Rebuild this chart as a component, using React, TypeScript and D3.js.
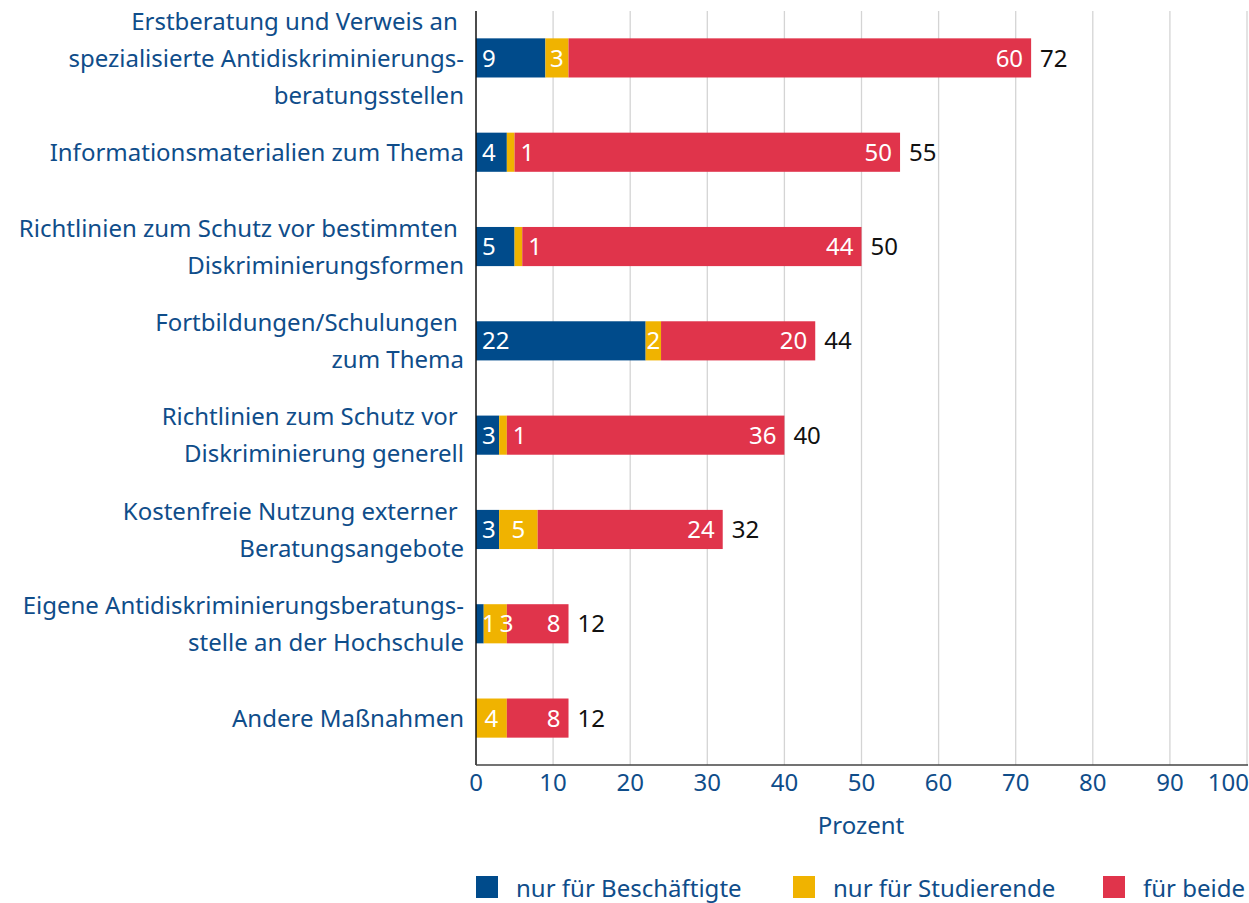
import { useEffect, useRef } from 'react';
import * as d3 from 'd3';

// categories (lines split as in the original labels)
const categories = [
  ['Erstberatung und Verweis an ', 'spezialisierte Antidiskriminierungs-', 'beratungsstellen'],
  ['Informationsmaterialien zum Thema'],
  ['Richtlinien zum Schutz vor bestimmten ', 'Diskriminierungsformen'],
  ['Fortbildungen/Schulungen ', 'zum Thema'],
  ['Richtlinien zum Schutz vor ', 'Diskriminierung generell'],
  ['Kostenfreie Nutzung externer ', 'Beratungsangebote'],
  ['Eigene Antidiskriminierungsberatungs-', 'stelle an der Hochschule'],
  ['Andere Maßnahmen'],
];
const beschaeftigte = [9, 4, 5, 22, 3, 3, 1, 0];
const studierende = [3, 1, 1, 2, 1, 5, 3, 4];
const beide = [60, 50, 44, 20, 36, 24, 8, 8];
const totals = [72, 55, 50, 44, 40, 32, 12, 12];
const ticks = [0, 10, 20, 30, 40, 50, 60, 70, 80, 90, 100];
const seriesNames = ['nur für Beschäftigte', 'nur für Studierende', 'für beide'];
const colors = ['#004b8b', '#f0b300', '#e0344b'];

const FONT = '"Noto Sans", sans-serif';
const FS = 24;
const TEXT_BLUE = '#0f4d8a';

export default function App() {
  const svgRef = useRef<SVGSVGElement>(null);

  useEffect(() => {
    const width = 1249;
    const height = 903;
    const left = 476, right = 1247, top = 11, bottom = 765;

    const svg = d3.select(svgRef.current);
    svg.selectAll('*').remove();
    svg.attr('width', width).attr('height', height);

    const x = d3.scaleLinear().domain([0, 100]).range([left, right]);
    const y = d3.scaleBand<number>()
      .domain(d3.range(categories.length))
      .range([top, bottom])
      .paddingInner(0.585)
      .paddingOuter(0.29);

    // grid
    svg.append('g')
      .selectAll('line')
      .data(ticks.slice(1))
      .enter()
      .append('line')
      .attr('x1', d => x(d)).attr('x2', d => x(d))
      .attr('y1', top).attr('y2', bottom)
      .attr('stroke', '#d4d4d4')
      .attr('stroke-width', 1.3);

    const rows = categories.map((c, i) => ({
      i,
      vals: [beschaeftigte[i], studierende[i], beide[i]],
    }));

    const stack = d3.stack<any>().keys(['0', '1', '2'])
      .value((d, k) => d.vals[+k]);
    const series = stack(rows);

    const bh = y.bandwidth();

    series.forEach((s, si) => {
      svg.append('g')
        .selectAll('rect')
        .data(s)
        .enter()
        .append('rect')
        .attr('x', d => x(d[0]))
        .attr('y', (d, i) => y(i)!)
        .attr('width', d => x(d[1]) - x(d[0]))
        .attr('height', bh)
        .attr('fill', colors[si]);
    });

    // segment labels
    const lbl = svg.append('g')
      .attr('font-family', FONT)
      .attr('font-size', FS)
      .attr('fill', '#fff');

    const tw = (v: number) => String(v).length * FS * 0.57;

    rows.forEach(r => {
      const cy = y(r.i)! + bh / 2;
      const [b, st, bo] = r.vals;
      let blueEnd = x(0);
      if (b > 0) {
        lbl.append('text').attr('x', x(0) + 6).attr('y', cy).attr('dy', '0.36em')
          .text(b);
        blueEnd = x(0) + 6 + tw(b);
      }
      if (st > 0) {
        const x0 = x(b), x1 = x(b + st);
        const narrow = x1 - x0 < 14;
        const cx = Math.max((x0 + x1) / 2, blueEnd + 4 + tw(st) / 2);
        lbl.append('text')
          .attr('x', narrow ? x1 + 6 : cx)
          .attr('y', cy).attr('dy', '0.36em')
          .attr('text-anchor', narrow ? 'start' : 'middle')
          .text(st);
      }
      lbl.append('text').attr('x', x(b + st + bo) - 8).attr('y', cy).attr('dy', '0.36em')
        .attr('text-anchor', 'end')
        .text(bo);

      svg.append('text')
        .attr('x', x(totals[r.i]) + 9).attr('y', cy).attr('dy', '0.36em')
        .attr('font-family', FONT).attr('font-size', FS).attr('fill', '#111')
        .text(totals[r.i]);
    });

    // category labels
    const lineH = 37;
    categories.forEach((lines, i) => {
      const cy = y(i)! + bh / 2;
      const t = svg.append('text')
        .attr('font-family', FONT).attr('font-size', FS).attr('fill', TEXT_BLUE)
        .attr('text-anchor', 'end');
      lines.forEach((ln, j) => {
        t.append('tspan')
          .attr('x', 464)
          .attr('y', cy + (j - (lines.length - 1) / 2) * lineH)
          .attr('dy', '0.36em')
          .style('white-space', 'pre')
          .text(ln);
      });
    });

    // axes
    svg.append('line')
      .attr('x1', left).attr('x2', left).attr('y1', top).attr('y2', bottom)
      .attr('stroke', '#111').attr('stroke-width', 1.5);
    svg.append('line')
      .attr('x1', left).attr('x2', right + 1).attr('y1', bottom).attr('y2', bottom)
      .attr('stroke', '#444').attr('stroke-width', 1.5);

    svg.append('g')
      .selectAll('text')
      .data(ticks)
      .enter()
      .append('text')
      .attr('x', d => x(d))
      .attr('y', 782)
      .attr('dy', '0.36em')
      .attr('text-anchor', d => (d === 100 ? 'end' : 'middle'))
      .attr('dx', d => (d === 100 ? 2 : 0))
      .attr('font-family', FONT).attr('font-size', FS).attr('fill', TEXT_BLUE)
      .text(d => d);

    svg.append('text')
      .attr('x', 861).attr('y', 825).attr('dy', '0.36em')
      .attr('text-anchor', 'middle')
      .attr('font-family', FONT).attr('font-size', FS).attr('fill', TEXT_BLUE)
      .text('Prozent');

    // legend
    const legendX = [476, 793, 1103];
    const lg = svg.append('g')
      .selectAll('g')
      .data(seriesNames)
      .enter()
      .append('g')
      .attr('transform', (d, i) => `translate(${legendX[i]}, 876)`);
    lg.append('rect')
      .attr('width', 22).attr('height', 22)
      .attr('fill', (d, i) => colors[i]);
    lg.append('text')
      .attr('x', 40).attr('y', 12).attr('dy', '0.36em')
      .attr('font-family', FONT).attr('font-size', FS).attr('fill', TEXT_BLUE)
      .text(d => d);
  }, []);

  return (
    <svg ref={svgRef} style={{ position: 'absolute', left: 0, top: 0, background: '#fff' }}></svg>
  );
}
